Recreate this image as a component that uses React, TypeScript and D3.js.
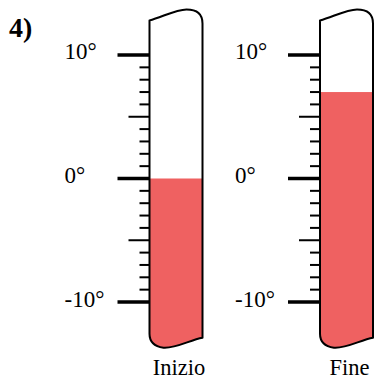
import React from "react";
import * as d3 from "d3";

const thermometers = ["Inizio", "Fine"];
const temperatures = [0, 7];
const tickValues = d3.range(-10, 11, 1);
const labelValues = [10, 0, -10];

const W = 376;
const H = 379;
const FILL = "#ef6161";

export default function App() {
  const y = d3.scaleLinear().domain([-10, 10]).range([302, 55]);
  const x = d3.scaleBand<string>().domain(thermometers).range([149.5, 490.5]).paddingInner(0).paddingOuter(0);
  const tubeW = 53;
  const topY = y(12.8);
  const botY = y(-13.7);

  const tubePath = (x0: number) => {
    const x1 = x0 + tubeW;
    return [
      `M${x0},${topY}`,
      `C${x0 + 12},${topY - 3} ${x0 + 26},${topY - 11} ${x0 + 37},${topY - 11}`,
      `Q${x1},${topY - 11} ${x1},${topY + 3}`,
      `L${x1},${botY - 10}`,
      `C${x1 - 12},${botY - 8} ${x0 + 26},${botY + 1} ${x0 + 14},${botY}`,
      `Q${x0},${botY - 2} ${x0},${botY - 14}`,
      "Z",
    ].join(" ");
  };

  return (
    <svg width={W} height={H} style={{ position: "absolute", left: 0, top: 0 }} fontFamily="Times New Roman, Times, Liberation Serif, serif">
      <text x={9} y={37} fontSize={28} fontWeight="bold">4)</text>
      {thermometers.map((name, i) => {
        const x0 = x(name)!;
        const id = `clip-${i}`;
        return (
          <g key={name}>
            <defs>
              <clipPath id={id}>
                <path d={tubePath(x0)} />
              </clipPath>
            </defs>
            <rect
              x={x0 - 2}
              y={y(temperatures[i])}
              width={tubeW + 4}
              height={botY + 10 - y(temperatures[i])}
              fill={FILL}
              clipPath={`url(#${id})`}
            />
            <path d={tubePath(x0)} fill="none" stroke="#000" strokeWidth={2} strokeLinejoin="round" />
            {tickValues.map((t) => {
              const major = t % 10 === 0;
              const mid = !major && t % 5 === 0;
              const len = major ? 32 : mid ? 21 : 10;
              return (
                <line
                  key={t}
                  x1={x0 - len}
                  x2={x0}
                  y1={y(t)}
                  y2={y(t)}
                  stroke="#000"
                  strokeWidth={major ? 3.5 : 2}
                />
              );
            })}
            {labelValues.map((t) => (
              <text key={t} x={x0 - 85} y={y(t) + (t < 0 ? 5 : 4)} fontSize={23}>
                {`${t}°`}
              </text>
            ))}
            <text x={x0 + tubeW / 2 + 3} y={375} fontSize={22.5} textAnchor="middle">
              {name}
            </text>
          </g>
        );
      })}
    </svg>
  );
}
